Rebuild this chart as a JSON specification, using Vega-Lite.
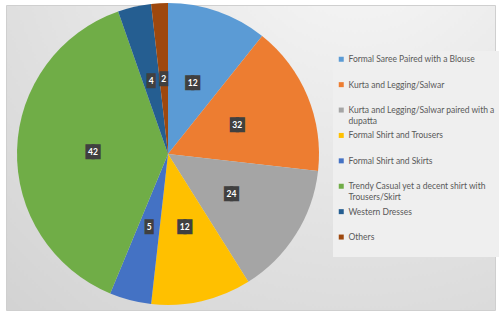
{
  "$schema": "https://vega.github.io/schema/vega-lite/v6.json",
  "width": 489,
  "height": 305,
  "autosize": {"type": "none"},
  "padding": {"left": 6, "top": 5, "right": 8, "bottom": 7},
  "background": "#ffffff",
  "view": {
    "fill": {"expr": "{gradient: 'radial', x1: 0.72, y1: 0, r1: 0, x2: 0.72, y2: 0, r2: 1.1, stops: [{offset: 0, color: '#f9f9f9'}, {offset: 1, color: '#d2d2d2'}]}"},
    "stroke": "#cfcfcf",
    "strokeWidth": 1
  },
  "data": {
    "values": [
      {"category": "Formal Saree Paired with a Blouse", "value": 12, "label": 12, "idx": 1},
      {"category": "Kurta and Legging/Salwar", "value": 18, "label": 32, "idx": 2},
      {"category": "Kurta and Legging/Salwar paired with a dupatta", "value": 16, "label": 24, "idx": 3},
      {"category": "Formal Shirt and Trousers", "value": 12, "label": 12, "idx": 4},
      {"category": "Formal Shirt and Skirts", "value": 5, "label": 5, "idx": 5},
      {"category": "Trendy Casual yet a decent shirt with Trousers/Skirt", "value": 43, "label": 42, "idx": 6},
      {"category": "Western Dresses", "value": 4, "label": 4, "idx": 7},
      {"category": "Others", "value": 2, "label": 2, "idx": 8}
    ]
  },
  "encoding": {
    "theta": {"field": "value", "type": "quantitative", "stack": true},
    "order": {"field": "idx", "type": "quantitative"}
  },
  "layer": [
    {
      "mark": {"type": "arc", "radius": 151, "x": {"expr": "width*0.3313"}, "y": {"expr": "height*0.4885"}},
      "encoding": {
        "color": {
          "field": "category",
          "type": "nominal",
          "scale": {
            "domain": ["Formal Saree Paired with a Blouse", "Kurta and Legging/Salwar", "Kurta and Legging/Salwar paired with a dupatta", "Formal Shirt and Trousers", "Formal Shirt and Skirts", "Trendy Casual yet a decent shirt with Trousers/Skirt", "Western Dresses", "Others"],
            "range": ["#5B9BD5", "#ED7D31", "#A5A5A5", "#FFC000", "#4472C4", "#70AD47", "#255E91", "#9E480E"]
          },
          "legend": {
            "title": null,
            "orient": "none",
            "legendX": 327,
            "legendY": 46,
            "fillColor": "#efefef",
            "padding": 4,
            "symbolType": "square",
            "symbolSize": 25,
            "symbolStrokeWidth": 0,
            "labelFont": "Lato",
            "labelFontSize": 8.5,
            "labelColor": "#595959",
            "labelLimit": 220,
            "labelOffset": 3,
            "rowPadding": 5.4,
            "labelExpr": "datum.label == 'Kurta and Legging/Salwar paired with a dupatta' ? ['Kurta and Legging/Salwar paired with a', 'dupatta'] : datum.label == 'Trendy Casual yet a decent shirt with Trousers/Skirt' ? ['Trendy Casual yet a decent shirt with', 'Trousers/Skirt'] : [datum.label, ' ']"
          }
        }
      }
    },
    {
      "mark": {"type": "text", "radius": 75, "x": {"expr": "width*0.3313"}, "y": {"expr": "height*0.4885"}, "font": "DejaVu Sans Mono", "fontSize": 10, "color": "#404040", "stroke": "#404040", "strokeWidth": 3, "baseline": "middle"},
      "encoding": {
        "text": {"condition": {"test": "datum.label >= 10", "value": "██"}, "value": "█"}
      }
    },
    {
      "mark": {"type": "text", "radius": 75, "x": {"expr": "width*0.3313"}, "y": {"expr": "height*0.4885"}, "font": "Lato", "fontWeight": "bold", "fontSize": 8.5, "color": "#ffffff", "baseline": "middle"},
      "encoding": {
        "text": {"field": "label", "type": "quantitative"}
      }
    }
  ]
}
